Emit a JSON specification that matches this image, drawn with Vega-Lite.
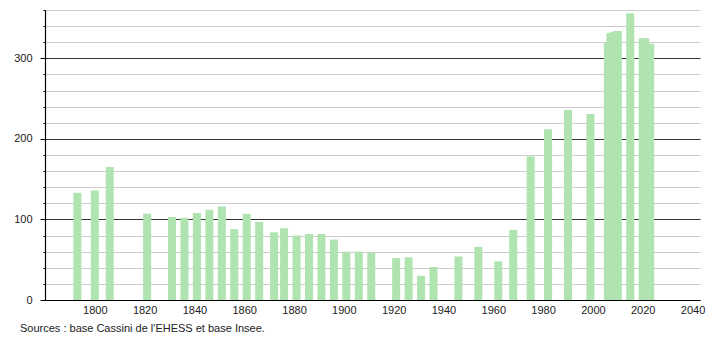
{
  "$schema": "https://vega.github.io/schema/vega-lite/v6.json",
  "width": 655,
  "height": 290,
  "autosize": "none",
  "padding": {"left": 45, "top": 10, "right": 10, "bottom": 40},
  "background": "white",
  "config": {"view": {"stroke": null}, "font": "Liberation Sans"},
  "title": {
    "text": "Sources : base Cassini de l'EHESS et base Insee.",
    "orient": "bottom",
    "anchor": "start",
    "frame": "group",
    "dx": -25,
    "offset": 8,
    "fontSize": 11,
    "fontWeight": "normal",
    "font": "Liberation Sans",
    "color": "#222"
  },
  "data": {
    "values": [
      {"year": 1793, "pop": 133}, {"year": 1800, "pop": 136}, {"year": 1806, "pop": 165},
      {"year": 1821, "pop": 107}, {"year": 1831, "pop": 103}, {"year": 1836, "pop": 102},
      {"year": 1841, "pop": 108}, {"year": 1846, "pop": 112}, {"year": 1851, "pop": 116},
      {"year": 1856, "pop": 88}, {"year": 1861, "pop": 107}, {"year": 1866, "pop": 97},
      {"year": 1872, "pop": 84}, {"year": 1876, "pop": 89}, {"year": 1881, "pop": 80},
      {"year": 1886, "pop": 82}, {"year": 1891, "pop": 82}, {"year": 1896, "pop": 75},
      {"year": 1901, "pop": 60}, {"year": 1906, "pop": 60}, {"year": 1911, "pop": 59},
      {"year": 1921, "pop": 52}, {"year": 1926, "pop": 53}, {"year": 1931, "pop": 30},
      {"year": 1936, "pop": 41}, {"year": 1946, "pop": 54}, {"year": 1954, "pop": 66},
      {"year": 1962, "pop": 48}, {"year": 1968, "pop": 87}, {"year": 1975, "pop": 178},
      {"year": 1982, "pop": 212}, {"year": 1990, "pop": 236}, {"year": 1999, "pop": 231},
      {"year": 2006, "pop": 320}, {"year": 2007, "pop": 331}, {"year": 2008, "pop": 332},
      {"year": 2009, "pop": 333}, {"year": 2010, "pop": 334}, {"year": 2015, "pop": 356},
      {"year": 2020, "pop": 325}, {"year": 2021, "pop": 325}, {"year": 2023, "pop": 318}
    ]
  },
  "mark": {"type": "bar", "width": 8, "color": "#afe3af"},
  "encoding": {
    "x": {
      "field": "year",
      "type": "quantitative",
      "scale": {"domain": [1780, 2043], "nice": false, "zero": false, "padding": 0},
      "axis": {
        "title": null,
        "values": [1800, 1820, 1840, 1860, 1880, 1900, 1920, 1940, 1960, 1980, 2000, 2020, 2040],
        "format": "d",
        "grid": false,
        "ticks": false,
        "labelPadding": 4,
        "labelFontSize": 11,
        "labelColor": "#222",
        "labelFont": "Liberation Sans",
        "domainColor": "#000",
        "domainWidth": 1.2
      }
    },
    "y": {
      "field": "pop",
      "type": "quantitative",
      "scale": {"domain": [0, 360], "nice": false},
      "axis": {
        "title": null,
        "values": [0, 20, 40, 60, 80, 100, 120, 140, 160, 180, 200, 220, 240, 260, 280, 300, 320, 340, 360],
        "labelExpr": "datum.value % 100 === 0 ? datum.label : ''",
        "grid": true,
        "gridColor": {"condition": {"test": "datum.value % 100 === 0", "value": "#333"}, "value": "#cccccc"},
        "gridWidth": 1,
        "tickColor": "#000",
        "tickSize": {"condition": {"test": "datum.value % 100 === 0", "value": 5}, "value": 2},
        "labelPadding": 8,
        "labelFontSize": 11,
        "labelColor": "#222",
        "labelFont": "Liberation Sans",
        "domainColor": "#000",
        "domainWidth": 1.2
      }
    }
  }
}
